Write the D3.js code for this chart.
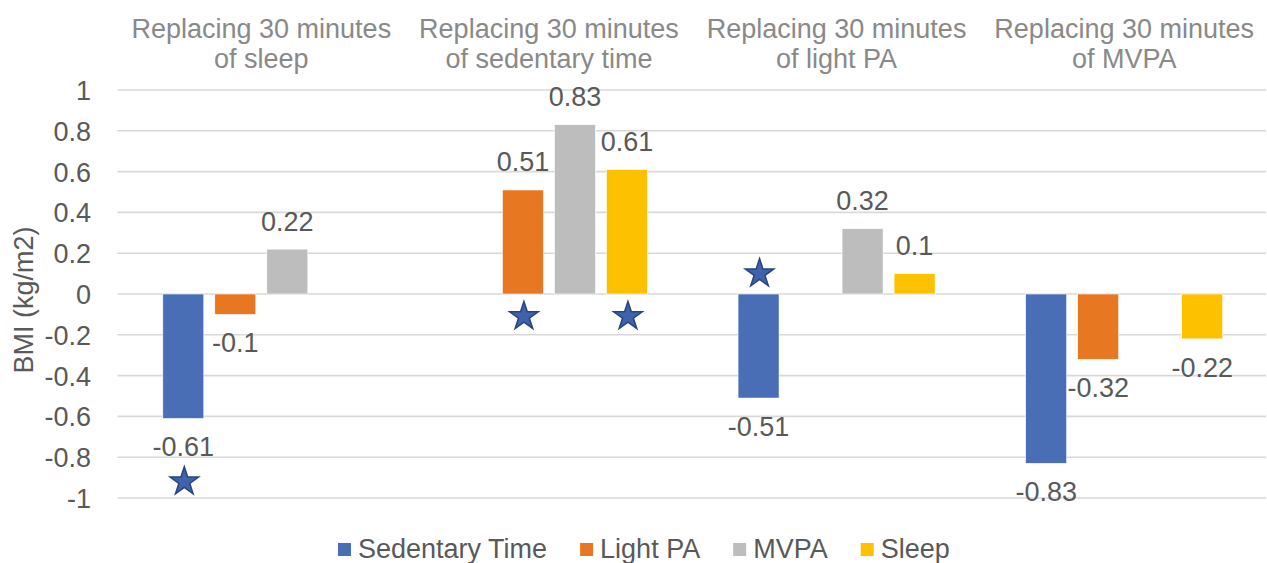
<!DOCTYPE html>
<html>
<head>
<meta charset="utf-8">
<script src="https://cdn.jsdelivr.net/npm/d3@7"></script>
<style>
  html, body { margin: 0; padding: 0; background: #ffffff; }
  svg { display: block; }
  text { font-family: "Liberation Sans", Arial, sans-serif; }
</style>
</head>
<body>
<svg id="chart" width="1267" height="563"></svg>
<script>
// ---- data ----
const categories = [
  ["Replacing 30 minutes", "of sleep"],
  ["Replacing 30 minutes", "of sedentary time"],
  ["Replacing 30 minutes", "of light PA"],
  ["Replacing 30 minutes", "of MVPA"]
];
const seriesNames = ["Sedentary Time", "Light PA", "MVPA", "Sleep"];
const sedentaryTime = [-0.61, null, -0.51, -0.83];
const lightPA = [-0.1, 0.51, null, -0.32];
const mvpa = [0.22, 0.83, 0.32, null];
const sleep = [null, 0.61, 0.1, -0.22];
const yTicks = [-1, -0.8, -0.6, -0.4, -0.2, 0, 0.2, 0.4, 0.6, 0.8, 1];
const yTickLabels = ["-1", "-0.8", "-0.6", "-0.4", "-0.2", "0", "0.2", "0.4", "0.6", "0.8", "1"];
const yTitle = "BMI (kg/m2)";
// significance stars: group index, series index, vertical position (axis units)
const starGroups = [0, 1, 1, 2];
const starSeries = [0, 1, 3, 0];
const starValues = [-0.92, -0.11, -0.11, 0.10];

const colors = ["#4A6EB6", "#E87722", "#BDBDBD", "#FDC100"];
const seriesValues = [sedentaryTime, lightPA, mvpa, sleep];

// ---- layout ----
const svg = d3.select("#chart");
const plot = { left: 117.5, right: 1268, top: 90, bottom: 498 };
const fontSize = 27;

const x0 = d3.scaleBand()
  .domain(d3.range(categories.length))
  .range([plot.left, plot.right])
  .paddingInner(0).paddingOuter(0);

const x1 = d3.scaleBand()
  .domain(d3.range(seriesNames.length))
  .range([0, x0.bandwidth()])
  .paddingInner(0.2115)
  .paddingOuter(0.871);

const y = d3.scaleLinear().domain([-1, 1]).range([plot.bottom, plot.top]);

// gridlines
svg.append("g")
  .selectAll("line")
  .data(yTicks)
  .join("line")
  .attr("x1", plot.left)
  .attr("x2", 1266)
  .attr("y1", d => y(d))
  .attr("y2", d => y(d))
  .attr("stroke", "#d9d9d9")
  .attr("stroke-width", 1.6);

// y axis tick labels
const yAxis = d3.axisLeft(y)
  .tickValues(yTicks)
  .tickSize(0)
  .tickPadding(0)
  .tickFormat((d, i) => yTickLabels[i]);
const yAxisG = svg.append("g")
  .attr("transform", `translate(91,0)`)
  .call(yAxis);
yAxisG.select(".domain").remove();
yAxisG.selectAll("text")
  .attr("font-family", "Liberation Sans, Arial, sans-serif")
  .attr("font-size", fontSize)
  .attr("fill", "#595959")
  .attr("dy", "0.35em");

// y title
svg.append("text")
  .attr("transform", `translate(33,${(plot.top + plot.bottom) / 2 + 6}) rotate(-90)`)
  .attr("text-anchor", "middle")
  .attr("font-size", 27)
  .attr("fill", "#595959")
  .text(yTitle);

// category titles
const titles = svg.append("g")
  .selectAll("text")
  .data(categories)
  .join("text")
  .attr("text-anchor", "middle")
  .attr("font-size", fontSize)
  .attr("fill", "#898989");
titles.each(function(lines, i) {
  const t = d3.select(this);
  lines.forEach((ln, k) => {
    t.append("tspan")
      .attr("x", x0(i) + x0.bandwidth() / 2)
      .attr("y", 38 + k * 30)
      .text(ln);
  });
});

// bars
const barData = [];
categories.forEach((c, g) => {
  seriesValues.forEach((vals, s) => {
    const v = vals[g];
    if (v !== null && v !== undefined) barData.push({ g, s, v });
  });
});

svg.append("g")
  .selectAll("rect")
  .data(barData)
  .join("rect")
  .attr("x", d => x0(d.g) + x1(d.s))
  .attr("width", x1.bandwidth())
  .attr("y", d => y(Math.max(0, d.v)))
  .attr("height", d => Math.abs(y(d.v) - y(0)))
  .attr("fill", d => colors[d.s])
  .attr("stroke", "#ffffff")
  .attr("stroke-width", 0.6);

// data labels
svg.append("g")
  .selectAll("text")
  .data(barData)
  .join("text")
  .attr("x", d => x0(d.g) + x1(d.s) + x1.bandwidth() / 2)
  .attr("y", d => d.v >= 0 ? y(d.v) - 18.5 : y(d.v) + 38)
  .attr("text-anchor", "middle")
  .attr("font-size", fontSize)
  .attr("fill", "#595959")
  .text(d => String(d.v));

// stars
const starR = 15;
const starPath = d3.symbol(d3.symbolStar, (starR * starR) / 0.8908130915292852)();
svg.append("g")
  .selectAll("path")
  .data(starValues.map((v, i) => ({ g: starGroups[i], s: starSeries[i], v })))
  .join("path")
  .attr("d", starPath)
  .attr("transform", d => `translate(${x0(d.g) + x1(d.s) + x1.bandwidth() / 2 + 1},${y(d.v)})`)
  .attr("fill", "#3F62AA")
  .attr("stroke", "#27447F")
  .attr("stroke-width", 1.5);

// legend
const legend = svg.append("g");
let lx = 338;
const sq = 13;
seriesNames.forEach((name, i) => {
  legend.append("rect")
    .attr("x", lx).attr("y", 543)
    .attr("width", sq).attr("height", sq)
    .attr("fill", colors[i]);
  const t = legend.append("text")
    .attr("x", lx + sq + 7)
    .attr("y", 558)
    .attr("font-size", fontSize)
    .attr("fill", "#595959")
    .text(name);
  const w = t.node().getComputedTextLength();
  lx = lx + sq + 7 + w + 33;
});
</script>
</body>
</html>
